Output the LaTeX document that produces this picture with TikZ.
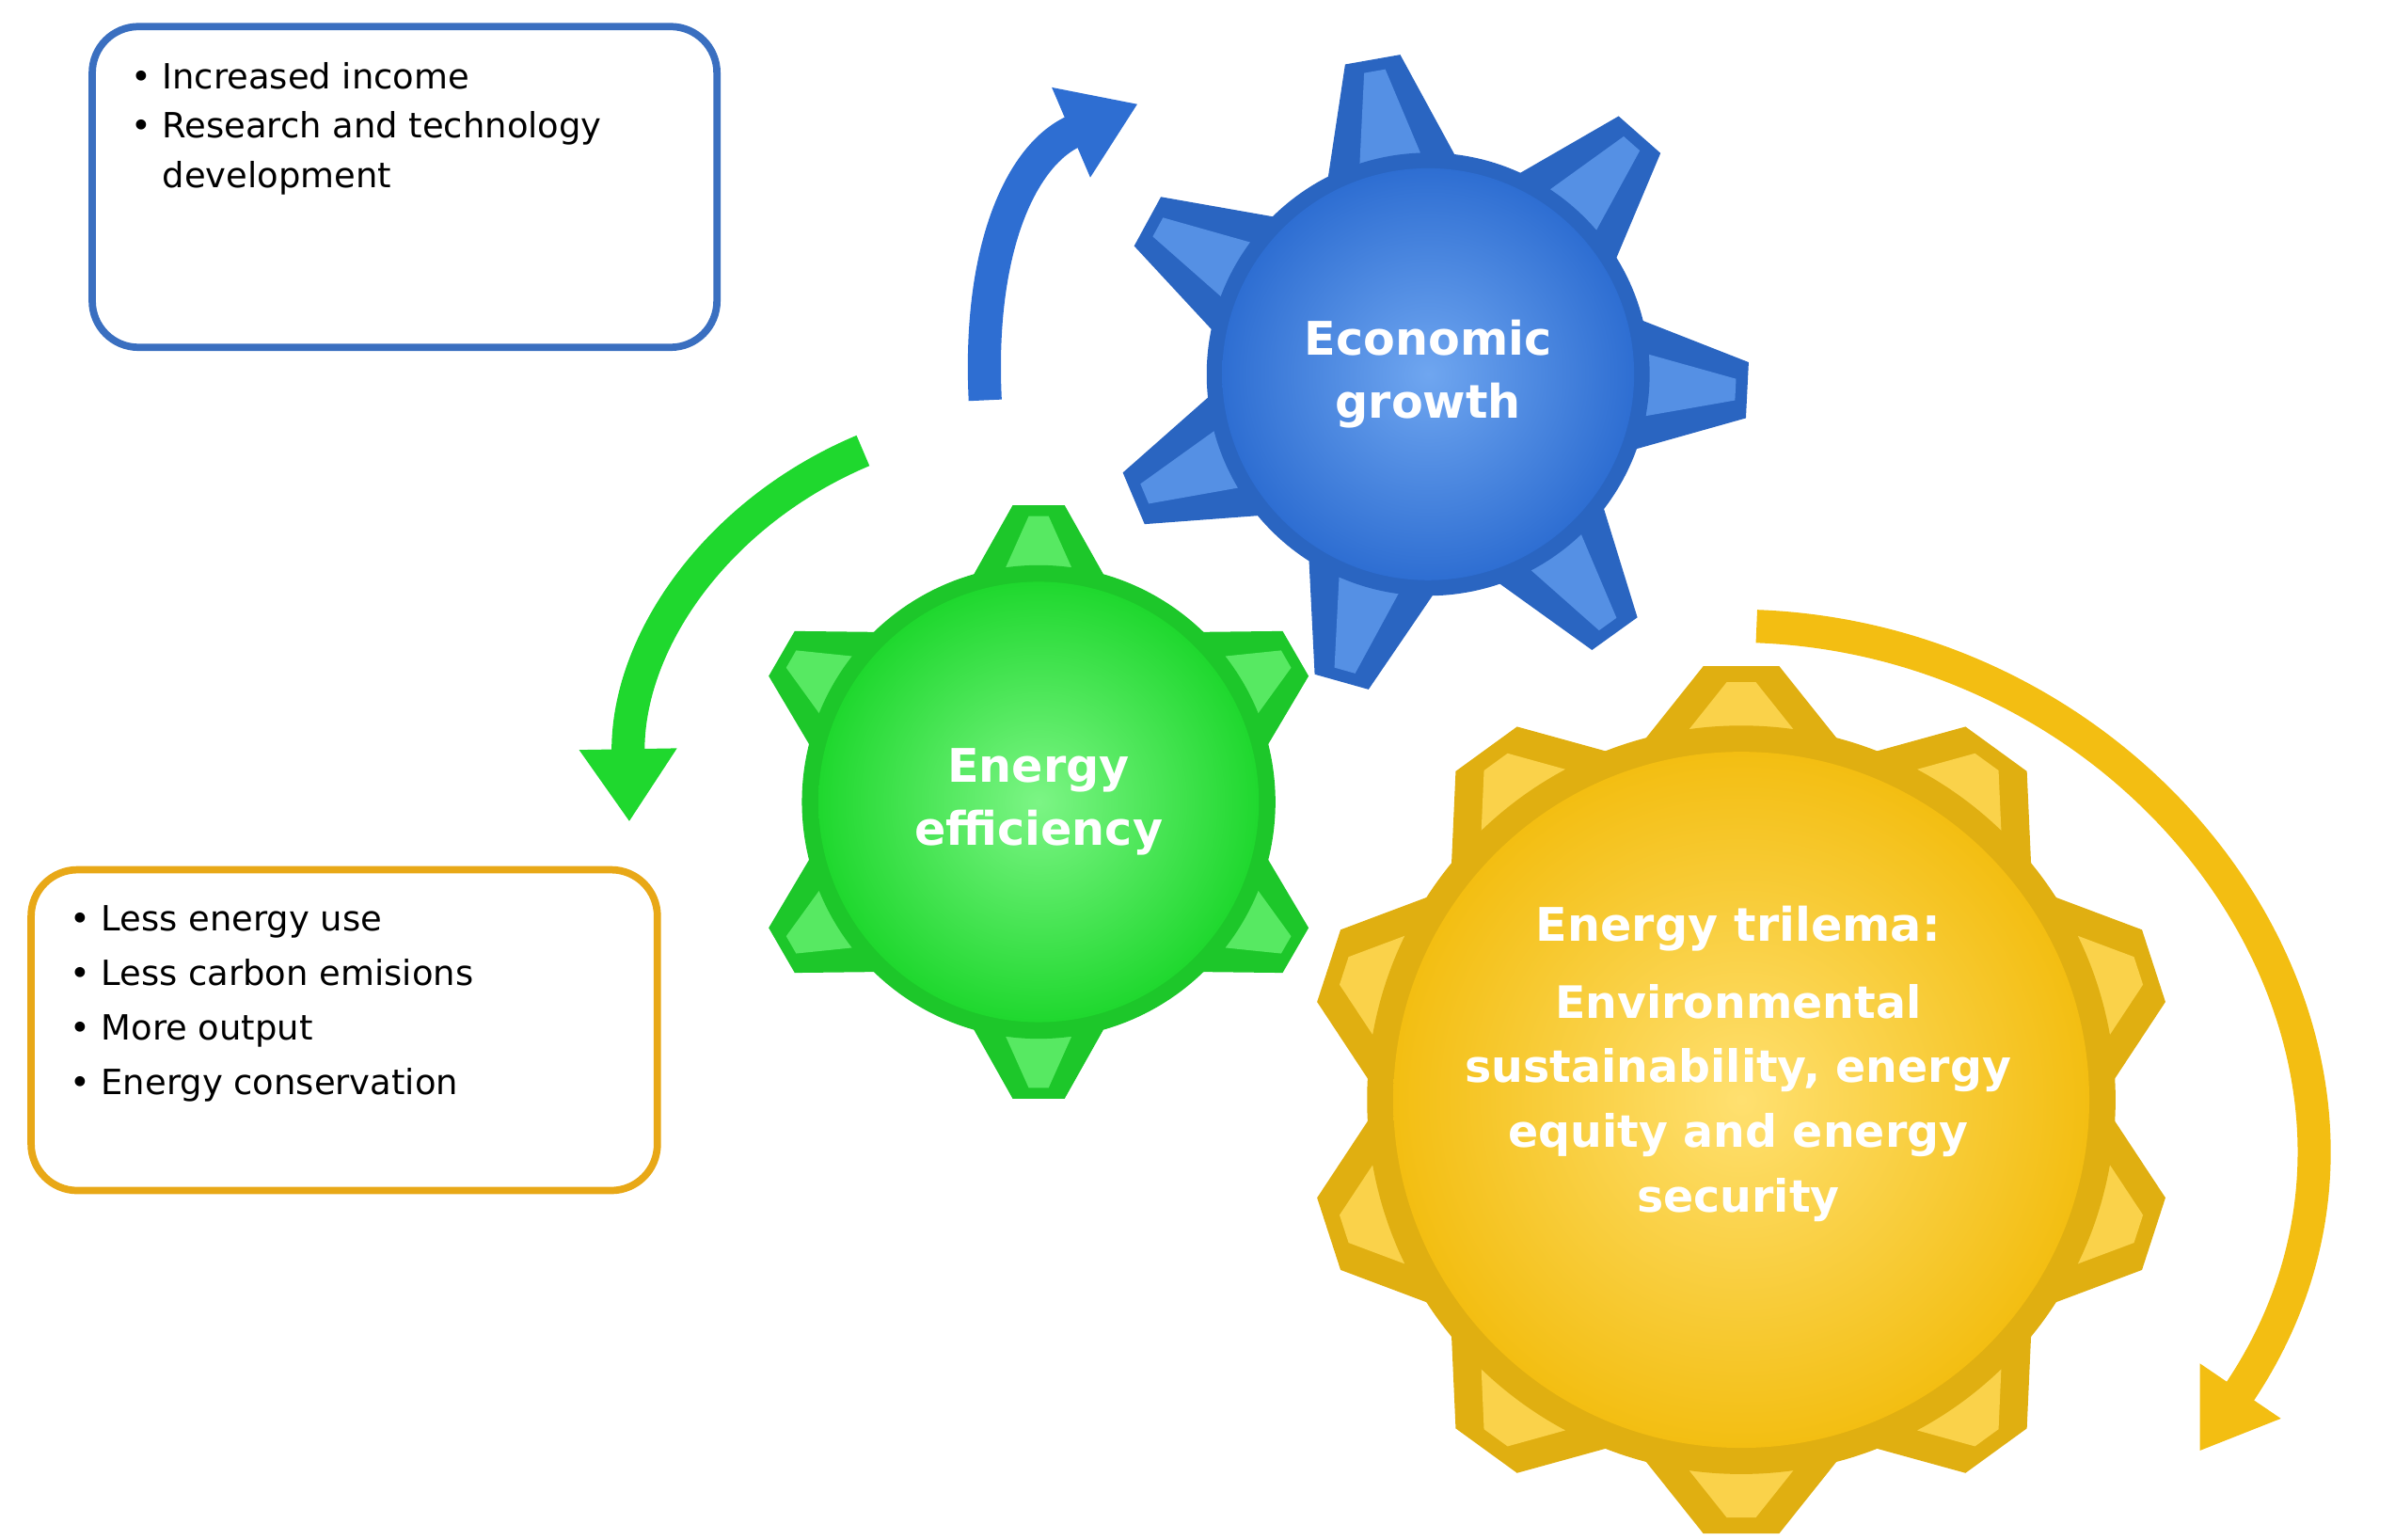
\documentclass[tikz,border=0pt]{standalone}
\usepackage{fontspec}
\setmainfont{DejaVu Sans}
\usetikzlibrary{arrows.meta,calc}
\definecolor{gblue}{HTML}{2E6ED2}
\definecolor{gblueL}{HTML}{6FA6F0}
\definecolor{ggreen}{HTML}{1FD82E}
\definecolor{ggreenL}{HTML}{7CF585}
\definecolor{gyel}{HTML}{F3BE12}
\definecolor{gyelL}{HTML}{FFE070}
\definecolor{bblue}{HTML}{3A6FC0}
\definecolor{borange}{HTML}{E8A817}
\tikzset{
  infobox/.style={draw, line width=2.2pt, rounded corners=14pt},
  boxtext/.style={anchor=north west, align=left, font=\fontsize{10.5}{15}\selectfont},
  geartext/.style={text=white, font=\bfseries\fontsize{14}{19}\selectfont, align=center},
  bigarrow/.style={line width=10pt, -{Triangle[width=28pt,length=22pt]}}
}
\newcommand{\mygear}[8]{% cx cy rbody rtip n phase color light
  \foreach \k in {1,...,#5}{
    \pgfmathsetmacro\a{#6+360*\k/#5}
    \fill[#7!92!black] ($(#1,#2)+(\a-19:#3*0.95)$) -- ($(#1,#2)+(\a-5:#4)$) -- ($(#1,#2)+(\a+5:#4)$) -- ($(#1,#2)+(\a+19:#3*0.95)$) -- cycle;
    \fill[#8!60!#7] ($(#1,#2)+(\a-8:#3*1.0)$) -- ($(#1,#2)+(\a-2:#4*0.96)$) -- ($(#1,#2)+(\a+2:#4*0.96)$) -- ($(#1,#2)+(\a+8:#3*1.0)$) -- cycle;
  }
  \fill[#7!92!black] (#1,#2) circle[radius=#3];
  \shade[inner color=#8, outer color=#7] (#1,#2) circle[radius=#3*0.93];
}
\begin{document}
\begin{tikzpicture}[x=0.01624cm,y=-0.01624cm]
\useasboundingbox (0,0) rectangle (1568,1008);
\node[infobox, draw=bblue, minimum width=409*0.01624cm, minimum height=210*0.01624cm, anchor=north west] (b1) at (58,15) {};
\node[boxtext] (t1) at (78,33) {• Increased income\\• Research and technology\\\phantom{• }development};
\node[infobox, draw=borange, minimum width=410*0.01624cm, minimum height=210*0.01624cm, anchor=north west] (b2) at (18,567) {};
\node[boxtext, font=\fontsize{10.5}{16.5}\selectfont] (t2) at (38,585) {• Less energy use\\• Less carbon emisions\\• More output\\• Energy conservation};
\mygear{935}{245}{145}{210}{7}{-100}{gblue}{gblueL}
\mygear{680}{525}{155}{195}{6}{90}{ggreen}{ggreenL}
\mygear{1140}{720}{245}{285}{10}{-90}{gyel}{gyelL}
\node[geartext] (eg) at (935,245) {Economic\\growth};
\node[geartext] (ee) at (680,525) {Energy\\efficiency};
\node[geartext] (et) at (1138,608) {Energy trilema:};
\node[geartext, font=\bfseries\fontsize{13.5}{19.5}\selectfont] (et2) at (1138,722) {Environmental\\sustainability, energy\\equity and energy\\security};
\coordinate (ba) at (645,262); \coordinate (bb) at (745,68);
\draw[bigarrow, gblue] (ba) .. controls (640,160) and (670,100) .. (bb);
\coordinate (ga) at (565,295); \coordinate (gb) at (412,538);
\draw[bigarrow, ggreen] (ga) .. controls (470,335) and (410,420) .. (gb);
\coordinate (ya) at (1150,410); \coordinate (yb) at (1440,950);
\draw[bigarrow, gyel] (ya) .. controls (1420,420) and (1610,700) .. (yb);
\end{tikzpicture}
\end{document}
